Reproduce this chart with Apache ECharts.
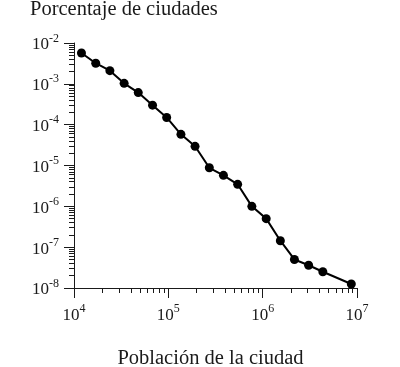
<!DOCTYPE html>
<html>
<head>
<meta charset="utf-8">
<script src="https://cdn.jsdelivr.net/npm/echarts@6/dist/echarts.min.js"></script>
<style>html,body{margin:0;padding:0;background:#fff}#c{width:400px;height:367px}</style>
</head>
<body>
<div id="c"></div>
<script>
// Data (log-log)
const poblacion = [12000, 17000, 24000, 34000, 48000, 68000, 96000, 136000, 192000, 272000, 384000, 543000, 768000, 1090000, 1540000, 2170000, 3070000, 4340000, 8700000];
const porcentaje = [5.7e-3, 3.2e-3, 2.1e-3, 1.03e-3, 6.1e-4, 3.0e-4, 1.5e-4, 5.8e-5, 2.95e-5, 8.8e-6, 5.75e-6, 3.46e-6, 1.0e-6, 5.0e-7, 1.44e-7, 5.0e-8, 3.6e-8, 2.5e-8, 1.25e-8];
const xMajor = [1e4, 1e5, 1e6, 1e7];
const yMajor = [1e-8, 1e-7, 1e-6, 1e-5, 1e-4, 1e-3, 1e-2];
const mult = [2, 3, 4, 5, 6, 7, 8, 9];
const xMinor = [];
[1e4, 1e5, 1e6].forEach(d => mult.forEach(m => xMinor.push(m * d)));
const yMinor = [];
[1e-8, 1e-7, 1e-6, 1e-5, 1e-4, 1e-3].forEach(d => mult.forEach(m => yMinor.push(parseFloat((m * d).toPrecision(3)))));

const FONT = 'Liberation Serif';
const INK = '#1a1a1a';
const rich = {
  b: {fontFamily: FONT, fontSize: 17, color: INK, verticalAlign: 'bottom'},
  s: {fontFamily: FONT, fontSize: 12, color: INK, verticalAlign: 'bottom', padding: [0, 0, 9, 0]}
};
const fmt = v => '{b|10}{s|' + Math.round(Math.log10(v)) + '}';

const chart = echarts.init(document.getElementById('c'), null, {renderer: 'canvas'});
chart.setOption({
  animation: false,
  backgroundColor: '#fff',
  title: {
    text: 'Porcentaje de ciudades', left: 25, top: -6,
    textStyle: {fontFamily: FONT, fontSize: 20.5, fontWeight: 'normal', color: INK}
  },
  grid: {left: 74, right: 43, top: 43, bottom: 79, outerBoundsMode: 'none', containLabel: false},
  xAxis: [
    {
      type: 'log', logBase: 10, min: 1e4, max: 1e7, position: 'bottom',
      name: 'Población de la ciudad', nameLocation: 'middle', nameGap: 60,
      nameTextStyle: {fontFamily: FONT, fontSize: 20.5, color: INK, padding: [0, 10, 0, 0]},
      axisLine: {show: true, lineStyle: {color: INK, width: 1}},
      axisTick: {show: true, inside: false, length: 10, customValues: xMajor, lineStyle: {color: INK}},
      axisLabel: {show: true, margin: 15, customValues: xMajor, formatter: fmt, rich: rich},
      splitLine: {show: false}
    },
    {
      type: 'log', logBase: 10, min: 1e4, max: 1e7, position: 'bottom', offset: 0,
      axisLine: {show: false},
      axisTick: {show: true, inside: false, length: 5, customValues: xMinor, lineStyle: {color: INK}},
      axisLabel: {show: false},
      splitLine: {show: false}
    }
  ],
  yAxis: [
    {
      type: 'log', logBase: 10, min: 1e-8, max: 1e-2, position: 'left',
      axisLine: {show: true, lineStyle: {color: INK, width: 1}},
      axisTick: {show: true, inside: false, length: 10, customValues: yMajor, lineStyle: {color: INK}},
      axisLabel: {show: true, margin: 15, customValues: yMajor, formatter: fmt, rich: rich},
      splitLine: {show: false}
    },
    {
      type: 'log', logBase: 10, min: 1e-8, max: 1e-2, position: 'left', offset: 0,
      axisLine: {show: false},
      axisTick: {show: true, inside: false, length: 5, customValues: yMinor, lineStyle: {color: INK}},
      axisLabel: {show: false},
      splitLine: {show: false}
    }
  ],
  series: [{
    type: 'line', xAxisIndex: 0, yAxisIndex: 0,
    data: poblacion.map((x, i) => [x, porcentaje[i]]),
    symbol: 'circle', symbolSize: 9,
    itemStyle: {color: '#000'},
    lineStyle: {color: '#000', width: 2},
    clip: false
  }]
});
</script>
</body>
</html>
